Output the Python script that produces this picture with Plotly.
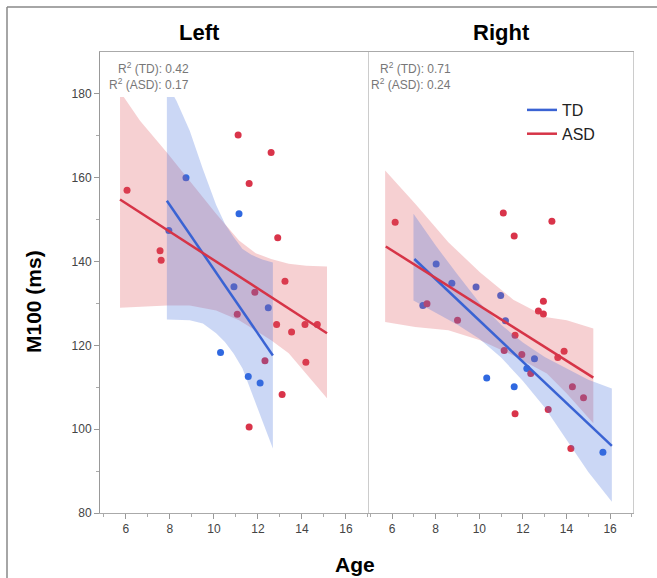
import plotly.graph_objects as go

# ---------------- data ----------------
# Left hemisphere
left_td_age = [7.95, 8.73, 10.30, 10.91, 11.14, 11.56, 12.10, 12.47]
left_td_m100 = [147.4, 160.0, 118.3, 134.0, 151.4, 112.6, 111.0, 129.0]
left_asd_age = [6.05, 7.55, 7.60, 11.06, 11.10, 11.60, 11.60, 11.86, 12.32, 12.60,
                12.85, 12.90, 13.10, 13.23, 13.53, 14.14, 14.18, 14.70]
left_asd_m100 = [157.0, 142.6, 140.3, 127.4, 170.2, 158.6, 100.5, 132.7, 116.3, 166.0,
                 125.0, 145.7, 108.3, 135.3, 123.2, 125.0, 116.0, 125.0]
# Right hemisphere
right_td_age = [7.41, 8.02, 8.74, 9.85, 10.34, 10.98, 11.20, 11.60, 12.18, 12.53, 15.67]
right_td_m100 = [129.5, 139.4, 134.8, 133.9, 112.2, 131.9, 125.9, 110.1, 114.5, 116.8, 94.5]
right_asd_age = [6.14, 7.60, 9.00, 11.10, 11.14, 11.60, 11.64, 11.64, 11.95, 12.36,
                 12.71, 12.94, 12.94, 13.16, 13.33, 13.60, 13.89, 14.20, 14.27, 14.78]
right_asd_m100 = [149.4, 129.9, 126.0, 151.6, 118.8, 146.1, 122.4, 103.7, 117.8, 113.3,
                  128.2, 127.5, 130.5, 104.7, 149.6, 117.1, 118.6, 95.4, 110.1, 107.5]

# Regression lines (end points)
left_td_fit_x, left_td_fit_y = [7.86, 12.68], [154.5, 117.6]
left_asd_fit_x, left_asd_fit_y = [5.73, 15.14], [154.8, 122.9]
right_td_fit_x, right_td_fit_y = [7.02, 16.08], [140.6, 96.0]
right_asd_fit_x, right_asd_fit_y = [5.71, 15.23], [143.6, 112.3]

# Confidence bands
left_td_band_x = [7.86, 8.30, 8.90, 9.50, 10.10, 10.50, 10.90, 11.30, 11.70, 12.20, 12.68]
left_td_band_hi = [182.5, 178.3, 171.2, 162.0, 153.5, 149.0, 145.8, 143.0, 141.6, 140.5, 139.8]
left_td_band_lo = [126.2, 126.2, 126.0, 125.2, 122.9, 120.8, 118.0, 114.5, 108.7, 102.0, 95.4]
left_asd_band_x = [5.73, 6.64, 7.86, 8.90, 10.10, 11.14, 11.90, 12.60, 13.40, 14.20, 15.14]
left_asd_band_hi = [180.6, 173.6, 166.0, 159.3, 151.4, 145.0, 142.0, 140.6, 139.5, 139.0, 138.8]
left_asd_band_lo = [129.0, 129.2, 129.5, 129.5, 128.3, 126.0, 123.6, 121.2, 118.1, 113.3, 107.4]
right_td_band_x = [6.98, 8.0, 9.0, 10.0, 11.0, 12.0, 13.0, 14.0, 15.0, 16.08]
right_td_band_hi = [151.4, 143.8, 136.9, 130.2, 124.9, 120.7, 117.2, 114.5, 111.8, 109.7]
right_td_band_lo = [130.7, 127.8, 124.9, 121.6, 117.1, 111.5, 105.2, 97.5, 89.8, 82.7]
right_asd_band_x = [5.68, 7.06, 8.58, 10.04, 11.56, 13.10, 14.01, 15.23]
right_asd_band_hi = [161.7, 153.8, 144.6, 137.4, 130.9, 126.7, 126.0, 124.0]
right_asd_band_lo = [125.6, 124.4, 123.6, 121.2, 117.6, 113.3, 108.5, 101.4]

r2_left = {"TD": "0.42", "ASD": "0.17"}
r2_right = {"TD": "0.71", "ASD": "0.24"}
x_ticks = [6, 8, 10, 12, 14, 16]
x_minor = [5, 7, 9, 11, 13, 15, 17]
y_ticks = [80, 100, 120, 140, 160, 180]
y_minor = [90, 110, 130, 150, 170]

# ---------------- styling ----------------
TD_LINE = "#3a63d3"
ASD_LINE = "#d63447"
TD_PT = "#2f68e0"
ASD_PT = "#d9344a"
TD_FILL = "rgba(70,110,220,0.28)"
ASD_FILL = "rgba(220,80,90,0.27)"

W, H = 657, 578
L, R, T, B = 100, 633, 52, 513  # plot area in pixels


def px(x):
    return (x - L) / (R - L)


def py(y):
    return (B - y) / (B - T)


fig = go.Figure()


def add_panel(xa, ya, td_x, td_y, asd_x, asd_y,
              tdb, asdb, tdf, asdf, show_legend):
    # points first (bands drawn over them)
    fig.add_trace(go.Scatter(x=td_x, y=td_y, mode="markers", xaxis=xa, yaxis=ya,
                             marker=dict(color=TD_PT, size=7), showlegend=False,
                             hoverinfo="skip"))
    fig.add_trace(go.Scatter(x=asd_x, y=asd_y, mode="markers", xaxis=xa, yaxis=ya,
                             marker=dict(color=ASD_PT, size=7), showlegend=False,
                             hoverinfo="skip"))
    for (bx, bhi, blo), fill in ((asdb, ASD_FILL), (tdb, TD_FILL)):
        fig.add_trace(go.Scatter(x=bx + bx[::-1], y=bhi + blo[::-1], mode="lines",
                                 fill="toself", fillcolor=fill,
                                 line=dict(width=0),
                                 xaxis=xa, yaxis=ya, showlegend=False,
                                 hoverinfo="skip"))
    fig.add_trace(go.Scatter(x=tdf[0], y=tdf[1], mode="lines", xaxis=xa, yaxis=ya,
                             line=dict(color=TD_LINE, width=2.5), name="TD",
                             showlegend=show_legend, legendrank=1))
    fig.add_trace(go.Scatter(x=asdf[0], y=asdf[1], mode="lines", xaxis=xa, yaxis=ya,
                             line=dict(color=ASD_LINE, width=2.5), name="ASD",
                             showlegend=show_legend, legendrank=2))


add_panel("x", "y", left_td_age, left_td_m100, left_asd_age, left_asd_m100,
          (left_td_band_x, left_td_band_hi, left_td_band_lo),
          (left_asd_band_x, left_asd_band_hi, left_asd_band_lo),
          (left_td_fit_x, left_td_fit_y), (left_asd_fit_x, left_asd_fit_y), False)
add_panel("x2", "y2", right_td_age, right_td_m100, right_asd_age, right_asd_m100,
          (right_td_band_x, right_td_band_hi, right_td_band_lo),
          (right_asd_band_x, right_asd_band_hi, right_asd_band_lo),
          (right_td_fit_x, right_td_fit_y), (right_asd_fit_x, right_asd_fit_y), True)

split = px(369)
tickfont = dict(family="Liberation Sans, Arial, sans-serif", size=12, color="#444")
xcommon = dict(tickvals=x_ticks, ticks="outside", ticklen=5, tickcolor="#999",
               showline=True, linecolor="#aaa", linewidth=1, mirror=True,
               showgrid=False, zeroline=False, tickfont=tickfont,
               minor=dict(tickvals=x_minor, ticks="outside", ticklen=3, tickcolor="#aaa"))

fig.update_layout(
    width=W, height=H,
    margin=dict(l=L, r=W - R, t=T, b=H - B),
    paper_bgcolor="white", plot_bgcolor="white",
    xaxis=dict(domain=[0, split], range=[4.82, 17.05], anchor="y", **xcommon),
    xaxis2=dict(domain=[split, 1], range=[4.94, 17.05], anchor="y2", **xcommon),
    yaxis=dict(range=[80, 190], anchor="x", tickvals=y_ticks, ticks="outside",
               ticklen=5, tickcolor="#999", showline=True, linecolor="#999",
               showgrid=False, zeroline=False, tickfont=tickfont,
               minor=dict(tickvals=y_minor, ticks="outside", ticklen=3, tickcolor="#aaa")),
    yaxis2=dict(range=[80, 190], anchor="x2", showticklabels=False, ticks="",
                showline=True, linecolor="#ccc", mirror=True,
                showgrid=False, zeroline=False),
    showlegend=True,
    legend=dict(x=px(522), y=py(93), xanchor="left", yanchor="top",
                bgcolor="rgba(0,0,0,0)",
                font=dict(family="Liberation Sans, Arial, sans-serif", size=16,
                          color="#222"),
                tracegroupgap=0, itemwidth=30),
)

# white box behind the left R² texts (covers the band tops)
fig.add_shape(type="rect", xref="paper", yref="paper",
              x0=px(104), x1=px(196), y0=py(97), y1=py(56),
              fillcolor="white", line=dict(width=0), layer="above")

# outer frame
fig.add_shape(type="line", xref="paper", yref="paper", x0=px(7), x1=px(657),
              y0=py(7), y1=py(7), line=dict(color="#888", width=1.5))
fig.add_shape(type="line", xref="paper", yref="paper", x0=px(7), x1=px(7),
              y0=py(7), y1=py(578), line=dict(color="#888", width=1.5))

rfont = dict(family="Liberation Sans, Arial, sans-serif", size=12, color="#777")
for xr, d in ((191, r2_left), (453, r2_right)):
    for i, g in enumerate(("TD", "ASD")):
        fig.add_annotation(xref="paper", yref="paper", x=px(xr), y=py(68 + 16 * i),
                           text=f"R<sup>2</sup> ({g}): {d[g]}", showarrow=False,
                           xanchor="right", yanchor="middle", font=rfont)

tfont = dict(family="Liberation Sans, Arial, sans-serif", size=22, color="black")
fig.add_annotation(xref="paper", yref="paper", x=px(199), y=py(32), text="<b>Left</b>",
                   showarrow=False, xanchor="center", yanchor="middle", font=tfont)
fig.add_annotation(xref="paper", yref="paper", x=px(501), y=py(32), text="<b>Right</b>",
                   showarrow=False, xanchor="center", yanchor="middle", font=tfont)
afont = dict(family="Liberation Sans, Arial, sans-serif", size=21, color="black")
fig.add_annotation(xref="paper", yref="paper", x=px(355), y=py(564), text="<b>Age</b>",
                   showarrow=False, xanchor="center", yanchor="middle", font=afont)
fig.add_annotation(xref="paper", yref="paper", x=px(33), y=py(302), text="<b>M100 (ms)</b>",
                   showarrow=False, xanchor="center", yanchor="middle", textangle=-90,
                   font=afont)

fig.write_html("out.html")
